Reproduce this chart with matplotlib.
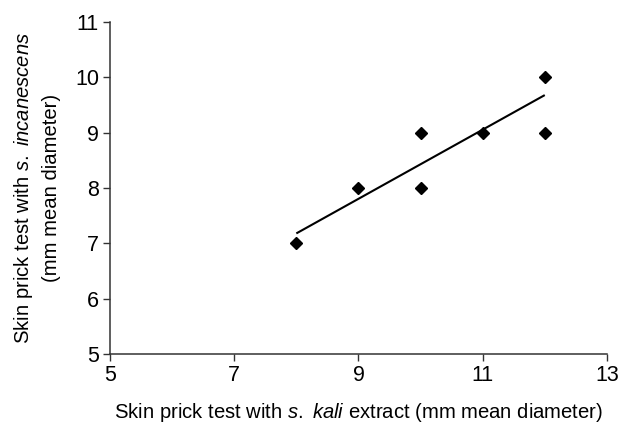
import matplotlib
matplotlib.use("Agg")
import matplotlib.pyplot as plt

# Data
kali = [8, 9, 10, 10, 11, 12, 12]
incanescens = [7, 8, 9, 8, 9, 10, 9]
fit_x = [8, 12]
fit_y = [7.18, 9.68]
x_ticks = [5, 7, 9, 11, 13]
y_ticks = [5, 6, 7, 8, 9, 10, 11]

plt.rcParams['font.family'] = ['Liberation Sans', 'DejaVu Sans']
plt.rcParams['mathtext.fontset'] = 'custom'
plt.rcParams['mathtext.rm'] = 'Liberation Sans'
plt.rcParams['mathtext.it'] = 'Liberation Sans:italic'

fig = plt.figure(figsize=(6.18, 4.24), dpi=100)
ax = fig.add_axes([0.178, 0.165, 0.804, 0.783])

ax.plot(fit_x, fit_y, color='black', lw=1.5, solid_capstyle='butt')
ax.plot(kali, incanescens, linestyle='none', marker='D', markersize=6.2,
        color='black')

ax.set_xlim(5, 13)
ax.set_ylim(5, 11)
ax.set_xticks(x_ticks)
ax.set_yticks(y_ticks)
ax.tick_params(direction='out', length=5, width=1, colors='#333333',
               labelsize=15.5, labelcolor='black', pad=3)
for s in ['top', 'right']:
    ax.spines[s].set_visible(False)
for s in ['left', 'bottom']:
    ax.spines[s].set_color('#333333')
    ax.spines[s].set_linewidth(1.1)

ax.set_xlabel(r'Skin prick test with $\mathit{s.\ kali}$ extract (mm mean diameter)',
              fontsize=14.6, labelpad=11)
ax.set_ylabel('Skin prick test with $\\mathit{s.\\ incanescens}$\n(mm mean diameter)',
              fontsize=14.6, labelpad=10, linespacing=1.45)

fig.savefig('out.png', dpi=100)
